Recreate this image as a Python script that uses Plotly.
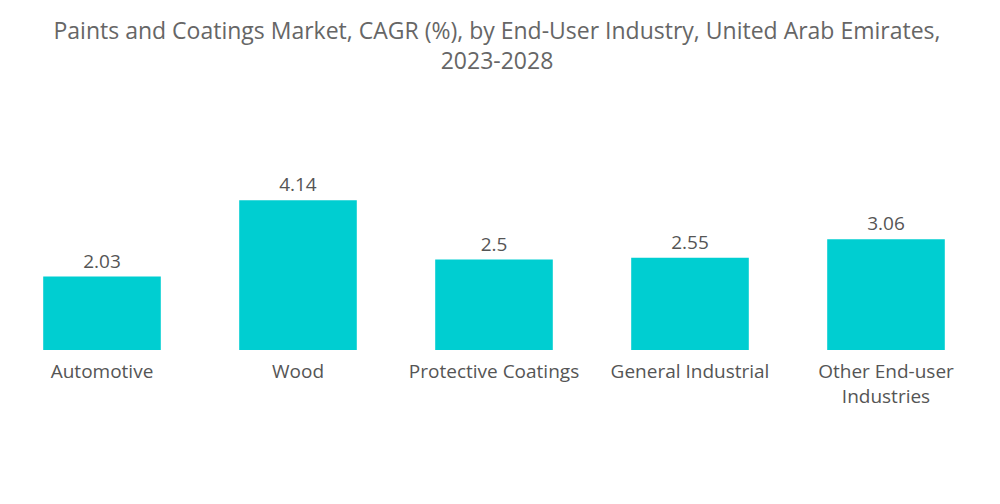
import plotly.graph_objects as go

categories = ["Automotive", "Wood", "Protective Coatings", "General Industrial", "Other End-user<br>Industries"]
values = [2.03, 4.14, 2.5, 2.55, 3.06]
value_labels = ["2.03", "4.14", "2.5", "2.55", "3.06"]

FONT = "Open Sans"
T, B = 120, 162
plot_h = 504 - T - B
PX_PER_UNIT = 36.2
CAT_PX = 196
x0 = -94 / CAT_PX

fig = go.Figure(go.Bar(
    x=list(range(len(categories))), y=values, text=value_labels,
    textposition="outside", cliponaxis=False,
    marker=dict(color="#00CED1", line=dict(width=0)),
    textfont=dict(family=FONT, size=19, color="#555555"),
    width=0.6,
))
fig.update_layout(
    width=1000, height=504,
    paper_bgcolor="white", plot_bgcolor="white",
    margin=dict(l=0, r=0, t=T, b=B, autoexpand=False),
    title=dict(text="Paints and Coatings Market, CAGR (%), by End-User Industry, United Arab Emirates,<br>2023-2028",
               x=0.489, xanchor="center", y=0.939, yanchor="top",
               font=dict(family=FONT, size=23, color="#666666")),
    showlegend=False,
    font=dict(family=FONT),
)
fig.update_xaxes(showgrid=False, showline=False, zeroline=False, automargin=False,
                 tickmode="array", tickvals=list(range(len(categories))), ticktext=categories,
                 range=[x0, x0 + 1000 / CAT_PX],
                 ticks="outside", ticklen=4, tickcolor="rgba(0,0,0,0)",
                 tickfont=dict(family=FONT, size=19, color="#555555"))
fig.update_yaxes(visible=False, automargin=False, range=[0, plot_h / PX_PER_UNIT])
fig.write_html("out.html")
